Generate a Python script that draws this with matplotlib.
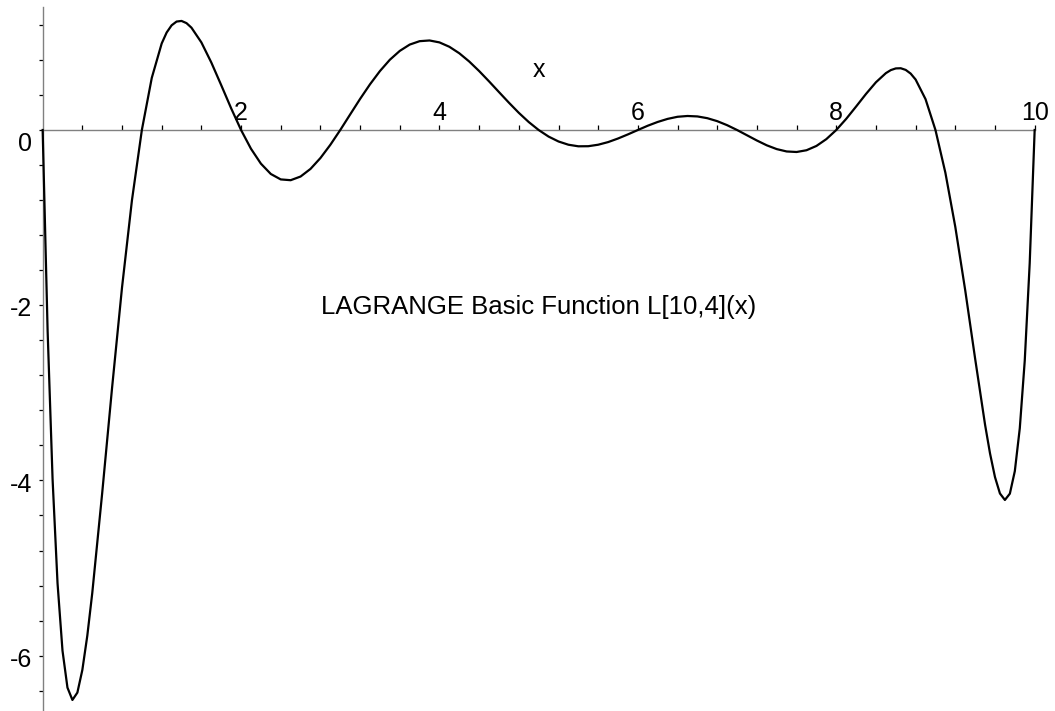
import numpy as np
import matplotlib
matplotlib.use("Agg")
import matplotlib.pyplot as plt

plt.rcParams['font.family'] = ['Liberation Sans', 'DejaVu Sans']

# L[10,4](x)
x_vals = [0.0, 0.05, 0.1, 0.15, 0.2, 0.25, 0.3, 0.35, 0.4, 0.45, 0.5, 0.6, 0.7, 0.8, 0.9,
          1.0, 1.1, 1.2, 1.25, 1.3, 1.35, 1.4, 1.45, 1.5, 1.6, 1.7, 1.8, 1.9,
          2.0, 2.1, 2.2, 2.3, 2.4, 2.5, 2.6, 2.7, 2.8, 2.9,
          3.0, 3.1, 3.2, 3.3, 3.4, 3.5, 3.6, 3.7, 3.8, 3.9,
          4.0, 4.1, 4.2, 4.3, 4.4, 4.5, 4.6, 4.7, 4.8, 4.9,
          5.0, 5.1, 5.2, 5.3, 5.4, 5.5, 5.6, 5.7, 5.8, 5.9,
          6.0, 6.1, 6.2, 6.3, 6.4, 6.5, 6.6, 6.7, 6.8, 6.9,
          7.0, 7.1, 7.2, 7.3, 7.4, 7.5, 7.6, 7.7, 7.8, 7.9,
          8.0, 8.1, 8.2, 8.3, 8.4, 8.5, 8.55, 8.6, 8.65, 8.7, 8.75, 8.8, 8.9,
          9.0, 9.1, 9.2, 9.3, 9.4, 9.5, 9.55, 9.6, 9.65, 9.7, 9.75, 9.8, 9.85, 9.9, 9.95, 10.0]
y_vals = [0.0, -2.292, -3.985, -5.174, -5.943, -6.365, -6.506, -6.422, -6.164, -5.773, -5.286,
          -4.146, -2.940, -1.798, -0.803,
          0.0, 0.595, 0.988, 1.113, 1.195, 1.238, 1.245, 1.220, 1.168, 1.000, 0.771, 0.512, 0.248,
          0.0, -0.214, -0.384, -0.502, -0.564, -0.573, -0.531, -0.444, -0.320, -0.169,
          0.0, 0.178, 0.355, 0.522, 0.673, 0.802, 0.903, 0.975, 1.014, 1.022,
          1.000, 0.950, 0.876, 0.782, 0.673, 0.555, 0.433, 0.312, 0.196, 0.091,
          0.0, -0.075, -0.131, -0.168, -0.186, -0.185, -0.168, -0.138, -0.097, -0.050,
          0.0, 0.049, 0.092, 0.127, 0.151, 0.160, 0.155, 0.135, 0.101, 0.055,
          0.0, -0.060, -0.120, -0.175, -0.218, -0.245, -0.251, -0.231, -0.182, -0.104,
          0.0, 0.127, 0.268, 0.412, 0.545, 0.649, 0.684, 0.703, 0.705, 0.686, 0.644, 0.576, 0.352,
          0.0, -0.488, -1.106, -1.830, -2.611, -3.364, -3.692, -3.962, -4.149, -4.223,
          -4.151, -3.894, -3.405, -2.634, -1.521, 0.0]

x_labels = [2, 4, 6, 8, 10]
y_labels = [0, -2, -4, -6]
title = "LAGRANGE Basic Function L[10,4](x)"

fig = plt.figure(figsize=(10.55, 7.11), dpi=100)
ax = fig.add_axes([0, 0, 1, 1])
ax.set_xlim(-0.430, 10.205)
ax.set_ylim(-6.632, 1.484)

ax.plot(x_vals, y_vals, color='black', lw=1.6, solid_joinstyle='round', zorder=3)

# axes through the origin
for s in ['top', 'right']:
    ax.spines[s].set_visible(False)
ax.spines['left'].set_position(('data', 0))
ax.spines['bottom'].set_position(('data', 0))
ax.spines['left'].set_bounds(-6.632, 1.40)
ax.spines['bottom'].set_bounds(0, 10)
for s in ['left', 'bottom']:
    ax.spines[s].set_color('#808080')
    ax.spines[s].set_linewidth(1.0)

ax.set_xticks(np.arange(0.4, 10.01, 0.4))
ax.set_yticks(np.arange(-6.4, 1.21, 0.4))
ax.tick_params(axis='x', direction='in', length=3.5, width=0.9, color='black',
               labelbottom=False)
ax.tick_params(axis='y', direction='out', length=3, width=0.9, color='black',
               labelleft=False)

for v in x_labels:
    ax.text(v, 0.114, str(v), ha='center', va='baseline', fontsize=18)
for v in y_labels:
    off = 0.236 if v == 0 else 0.128
    ax.text(-0.108, v - off, str(v), ha='right', va='baseline', fontsize=18)

ax.text(5.0, 0.608, 'x', ha='center', va='baseline', fontsize=18)
ax.text(5.0, -2.104, title, ha='center', va='baseline', fontsize=18.5)

fig.savefig('out.png', dpi=100)
